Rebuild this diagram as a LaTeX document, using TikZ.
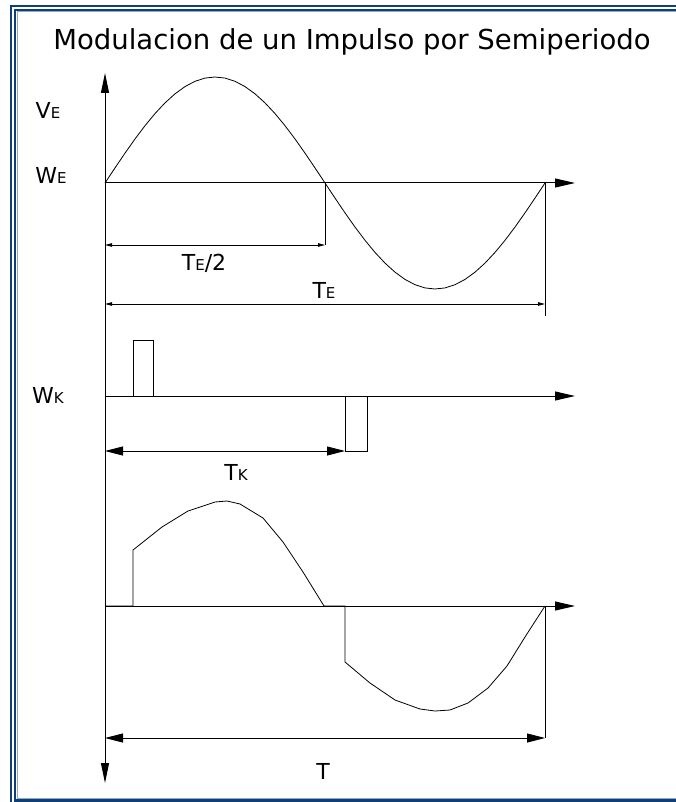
\documentclass[tikz,border=0pt]{standalone}
\usepackage{fontspec}
\setmainfont{DejaVu Sans}
\usetikzlibrary{arrows.meta}
\definecolor{framedark}{HTML}{0F3F73}
\definecolor{framelight}{HTML}{8FA9C9}
\newcommand{\smallsub}[2]{#1{\fontsize{15}{16}\selectfont #2}}
\tikzset{
  axis/.style={line width=1pt,-{Triangle[length=20pt,width=9pt]}},
  wave/.style={line width=0.8pt},
  guide/.style={line width=0.9pt},
  dimbig/.style={line width=0.9pt,{Triangle[length=18pt,width=9pt]}-{Triangle[length=18pt,width=9pt]}},
  dimsmall/.style={line width=0.9pt,{Triangle[length=7pt,width=3.5pt]}-{Triangle[length=7pt,width=3.5pt]}},
  lbl/.style={font=\fontsize{22}{24}\selectfont,inner sep=0pt},
}
\begin{document}
\begin{tikzpicture}[x=1pt,y=-1pt]
  \useasboundingbox (0,0) rectangle (676,802);
  % frame
  \draw[framedark,line width=2.5pt] (11,6) rectangle (700,830);
  \draw[framedark,line width=2.5pt] (15,10) rectangle (690,800.5);
  \draw[framelight,line width=1pt] (17,12) rectangle (688,798.5);

  \node[font=\fontsize{27.5}{30}\selectfont] (title) at (352,42) {Modulacion de un Impulso por Semiperiodo};

  % axes
  \coordinate (top) at (105,73);
  \coordinate (bottom) at (105,783);
  \draw[line width=1pt,{Triangle[length=20pt,width=8pt]}-{Triangle[length=20pt,width=8pt]}] (bottom) -- (top);
  \coordinate (O1) at (105,183);
  \coordinate (O2) at (105,396);
  \coordinate (O3) at (105,606);
  \draw[axis] (O1) -- (575,183);
  \draw[axis] (O2) -- (575,396);
  \draw[axis] (O3) -- (575,606);

  \node[lbl] (VE) at (48,110) {\smallsub{V}{E}};
  \node[lbl] (WE) at (51,175) {\smallsub{W}{E}};
  \node[lbl] (WK) at (48,395) {\smallsub{W}{K}};

  % carrier
  \draw[wave] plot[domain=0:440,samples=45] ({105+\x},{183-106*sin(\x/440*360)});
  \coordinate (half) at (325,183);
  \coordinate (full) at (545,183);
  \coordinate (halfdim) at (325,245);
  \draw[guide] (half) -- (halfdim);
  \draw[guide] (full) -- (545,316);
  \draw[dimsmall] (105,245) -- (halfdim);
  \draw[dimsmall] (105,304) -- (545,304);
  \node[lbl] (TEhalf) at (204,263) {\smallsub{T}{E}/2};
  \node[lbl] (TE) at (324,290) {\smallsub{T}{E}};

  % pulses
  \draw[guide] (133,396) -- (133,340) -- (153,340) -- (153,396);
  \coordinate (neg) at (345,451);
  \draw[guide] (345,396) -- (neg) -- (367,451) -- (367,396);
  \draw[dimbig] (105,451) -- (neg);
  \node[lbl] (TK) at (236,472) {\smallsub{T}{K}};

  % modulated wave
  \draw[wave] (O3) -- (133,606) -- (133,550) -- (162,527) -- (188,511) -- (215,502)
    -- (227,501) -- (240,504) -- (263,518) -- (283,542) -- (303,572) -- (324,606)
    -- (345,606) -- (345,662) -- (370,683) -- (395,700) -- (420,709) -- (435,711)
    -- (450,710) -- (468,703) -- (488,688) -- (507,666) -- (525,637) -- (545,606);
  \coordinate (end) at (545,738);
  \draw[guide] (545,606) -- (end);
  \draw[dimbig] (105,738) -- (end);
  \node[lbl] (T) at (323,771) {T};
\end{tikzpicture}
\end{document}
